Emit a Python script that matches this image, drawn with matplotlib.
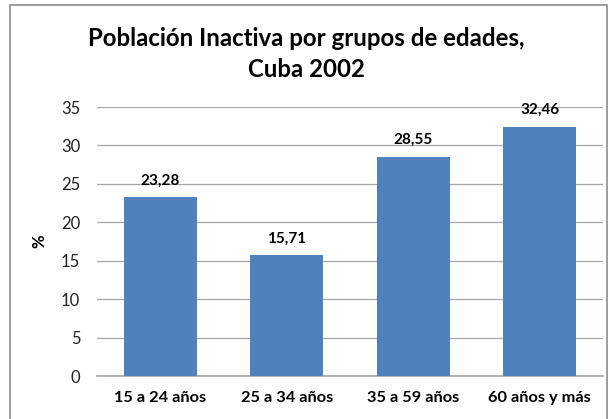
import matplotlib.pyplot as plt
from matplotlib.patches import Rectangle

categorias = ["15 a 24 años", "25 a 34 años", "35 a 59 años", "60 años y más"]
valores = [23.28, 15.71, 28.55, 32.46]
etiquetas = ["23,28", "15,71", "28,55", "32,46"]
yticks = [0, 5, 10, 15, 20, 25, 30, 35]

plt.rcParams['font.family'] = ['Lato', 'DejaVu Sans']

fig = plt.figure(figsize=(6.12, 4.19), dpi=100)
ax = fig.add_axes([97/612, 1 - 376/419, 506/612, 269/419])

x = list(range(len(categorias)))
ax.bar(x, valores, width=0.575, color="#4F81BD", zorder=3)
for xi, v, t in zip(x, valores, etiquetas):
    ax.annotate(t, (xi, v), xytext=(0, 7), textcoords="offset points",
                ha="center", va="bottom", fontsize=11, fontweight="bold")

ax.set_xlim(-0.5, len(categorias) - 0.5)
ax.set_ylim(0, 35)
ax.set_yticks(yticks)
ax.set_xticks(x)
ax.set_xticklabels(categorias, fontsize=11.75, fontweight="bold")
ax.tick_params(axis="y", length=0, pad=12, labelsize=12, colors="#222222")
ax.tick_params(axis="x", length=0, pad=11)
ax.grid(axis="y", color="#A6A6A6", linewidth=0.9, zorder=0)
for s in ["top", "right", "left"]:
    ax.spines[s].set_visible(False)
ax.spines["bottom"].set_color("#A6A6A6")
ax.spines["bottom"].set_linewidth(1.2)
ax.set_ylabel("%", fontsize=12, fontweight="bold", labelpad=10)

fig.text(0.5, 1 - 54/419, "Población Inactiva por grupos de edades,\nCuba 2002",
         ha="center", va="center", fontsize=17.3, fontweight="bold", linespacing=1.4)

fig.patches.append(Rectangle((10/612, -0.05), 597/612, 1 - 5/419 + 0.05,
                             transform=fig.transFigure, fill=False,
                             edgecolor="#8C8C8C", linewidth=1.2))

fig.savefig("out.png", dpi=100)
